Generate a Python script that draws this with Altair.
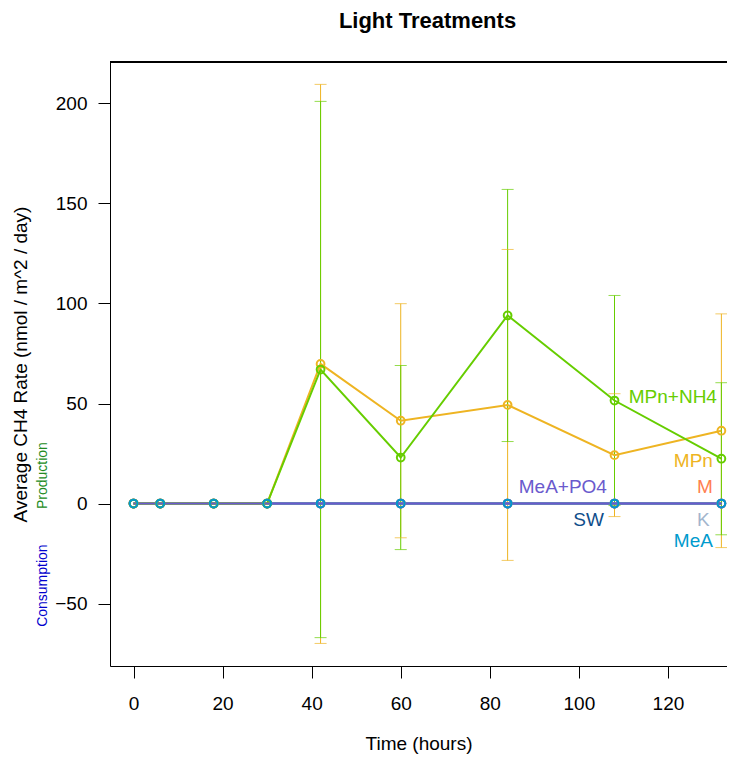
import altair as alt
import pandas as pd

# ---------------- data ----------------
times = [0, 6, 18, 30, 42, 60, 84, 108, 132]

series_names = ["SW", "K", "M", "MeA", "MPn", "MPn+NH4", "MeA+PO4"]
series_colors = ["#104E8B", "#A2B5CD", "#FF7F50", "#009ACD", "#EEB422", "#66CD00", "#6A5ACD"]

sw_mean = [0, 0, 0, 0, 0, 0, 0, 0, 0]
k_mean = [0, 0, 0, 0, 0, 0, 0, 0, 0]
m_mean = [0, 0, 0, 0, 0, 0, 0, 0, 0]
mea_mean = [0, 0, 0, 0, 0, 0, 0, 0, 0]
mpn_mean = [0, 0, 0, 0, 69.8, 41.4, 49.3, 24.2, 36.4]
mpn_nh4_mean = [0, 0, 0, 0, 67.0, 23.0, 94.0, 51.5, 22.4]
mea_po4_mean = [0, 0, 0, 0, 0, 0, 0, 0, 0]

sw_sd = [0, 0, 0, 0, 0, 0, 0, 0, 0]
k_sd = [0, 0, 0, 0, 0, 0, 0, 0, 0]
m_sd = [0, 0, 0, 0, 0, 0, 0, 0, 0]
mea_sd = [0, 0, 0, 0, 0, 0, 0, 0, 0]
mpn_sd = [0, 0, 0, 0, 139.7, 58.5, 77.7, 30.7, 58.4]
mpn_nh4_sd = [0, 0, 0, 0, 134.0, 46.0, 63.0, 52.5, 38.0]
mea_po4_sd = [0, 0, 0, 0, 0, 0, 0, 0, 0]

label_names = ["MPn+NH4", "MPn", "M", "MeA+PO4", "SW", "K", "MeA"]
label_x = [111.2, 130.1, 130.1, 106.3, 105.6, 129.4, 130.1]
label_y = [53.4, 21.4, 8.5, 8.5, -8.0, -8.0, -18.5]
label_align = ["left", "right", "right", "right", "right", "right", "right"]

side_names = ["Production", "Consumption"]
side_y = [14, -41]
side_colors = ["#228B22", "#0000CD"]

x_ticks = [0, 20, 40, 60, 80, 100, 120]
y_ticks = [-50, 0, 50, 100, 150, 200]

# ---------------- tables ----------------
means = dict(zip(series_names, [sw_mean, k_mean, m_mean, mea_mean, mpn_mean, mpn_nh4_mean, mea_po4_mean]))
sds = dict(zip(series_names, [sw_sd, k_sd, m_sd, mea_sd, mpn_sd, mpn_nh4_sd, mea_po4_sd]))

rows = []
for name in series_names:
    for t, m, s in zip(times, means[name], sds[name]):
        rows.append(dict(series=name, time=t, mean=m, sd=s, lo=m - s, hi=m + s))
df = pd.DataFrame(rows)

labels_df = pd.DataFrame(dict(label=label_names, x=label_x, y=label_y, align=label_align))
side_df = pd.DataFrame(dict(label=side_names, y=side_y, color=side_colors))

FONT = "Liberation Sans"
FS = 19
W, H = 617, 604

x_scale = alt.Scale(domain=[-5.28, 133.26], nice=False, zero=False)
y_scale = alt.Scale(domain=[-81.18, 220.68], nice=False, zero=False)
color = alt.Color("series:N", scale=alt.Scale(domain=series_names, range=series_colors), legend=None)

x_axis = alt.Axis(values=x_ticks, title="Time (hours)", grid=False, tickSize=12,
                  labelPadding=16, titlePadding=21, labelFontSize=FS, titleFontSize=FS,
                  labelFont=FONT, titleFont=FONT, titleFontWeight="normal",
                  domainColor="black", tickColor="black", labelColor="black", titleColor="black",
                  labelFlush=False)
y_axis = alt.Axis(values=y_ticks, title="Average CH4 Rate (nmol / m^2 / day)", grid=False, tickSize=12,
                  labelPadding=11, titlePadding=24, labelFontSize=FS, titleFontSize=FS,
                  labelFont=FONT, titleFont=FONT, titleFontWeight="normal",
                  domainColor="black", tickColor="black", labelColor="black", titleColor="black",
                  labelFlush=False)


def X(field):
    return alt.X(field, scale=x_scale, axis=x_axis)


def Y(field):
    return alt.Y(field, scale=y_scale, axis=y_axis)


base = alt.Chart(df)
err = base.transform_filter(alt.datum.sd > 0)

layers = []
# error bars
layers.append(err.mark_rule(strokeWidth=1).encode(
    x=X("time:Q"), y=Y("lo:Q"), y2="hi:Q", color=color))
for f in ["lo", "hi"]:
    layers.append(err.mark_tick(orient="horizontal", size=12, thickness=1).encode(
        x=X("time:Q"), y=Y(f + ":Q"), color=color))

# lines
for name in ["SW", "K", "M", "MeA", "MPn", "MPn+NH4", "MeA+PO4"]:
    layers.append(base.transform_filter(alt.datum.series == name).mark_line(strokeWidth=2).encode(
        x=X("time:Q"), y=Y("mean:Q"), color=color))

# points
for name in ["SW", "K", "M", "MeA+PO4", "MPn", "MPn+NH4", "MeA"]:
    layers.append(base.transform_filter(alt.datum.series == name).mark_point(
        shape="circle", filled=False, size=60, strokeWidth=2, opacity=1).encode(
        x=X("time:Q"), y=Y("mean:Q"), color=color))

# series labels
for al in ["left", "right"]:
    layers.append(alt.Chart(labels_df).transform_filter(alt.datum.align == al).mark_text(
        align=al, baseline="middle", fontSize=FS, font=FONT).encode(
        x=X("x:Q"), y=Y("y:Q"),
        text="label:N",
        color=alt.Color("label:N", scale=alt.Scale(domain=series_names, range=series_colors), legend=None)))

# production / consumption
layers.append(alt.Chart(side_df).mark_text(angle=270, align="center", baseline="middle",
                                           fontSize=14, font=FONT).encode(
    x=alt.value(-67),
    y=Y("y:Q"),
    text="label:N",
    color=alt.Color("color:N", scale=None)))

# top border of the box
layers.append(alt.Chart(df).mark_rule(color="black", strokeWidth=1).encode(
    x=alt.value(0), x2=alt.value(W), y=alt.value(0)))

chart = alt.layer(*layers).properties(
    width=W, height=H,
    title=alt.TitleParams("Light Treatments", font=FONT, fontSize=22, fontWeight="bold",
                          color="black", anchor="middle", frame="group", dx=9, offset=29),
    padding={"left": 102, "top": 54, "right": 0, "bottom": 88},
    autosize=alt.AutoSizeParams(type="none"),
).configure_view(stroke=None).configure(background="white")

chart.save("out.html", embed_options={"renderer": "svg", "actions": False})
